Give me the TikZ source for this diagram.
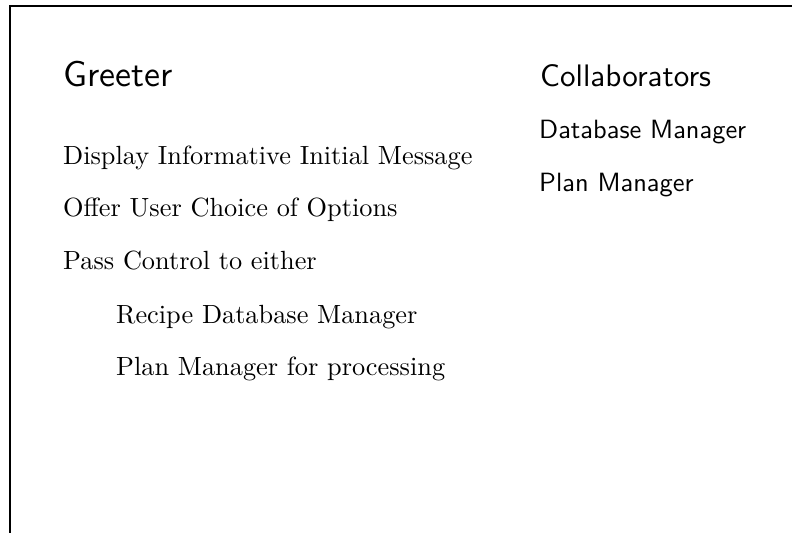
\documentclass[tikz,border=0pt]{standalone}
\usepackage{graphicx}
\usepackage{tikz}
% text is set at its 10pt design and blown up, as on the card
\newcommand{\cardtext}[2]{\scalebox{#1}{\fontsize{10}{12}\selectfont #2}}
\tikzset{
  every picture/.style={line join=miter, line cap=butt},
  card/.style={line width=2bp},
  title/.style={anchor=base west, inner sep=0pt, font=\sffamily},
  collab/.style={anchor=base west, inner sep=0pt, font=\sffamily},
  resp/.style={anchor=base west, inner sep=0pt, font=\rmfamily},
}

\begin{document}
\begin{tikzpicture}[x=1bp,y=-1bp]
\useasboundingbox (0,0) rectangle (792,533);
\draw[card](10,533)--(10,6)--(792,6);
% class name and collaborators
\node[title] (name) at (63,87) {\cardtext{3.6}{Greeter}};
\node[title] (coll) at (540,87) {\cardtext{3.12}{Collaborators}};
\node[collab] (db) at (539,139) {\cardtext{2.65}{Database Manager}};
\node[collab] (plan) at (539,192) {\cardtext{2.65}{Plan Manager}};
% responsibilities
\node[resp] (r1) at (63,165) {\cardtext{2.64}{Display Informative Initial Message}};
\node[resp] (r2) at (63,217) {\cardtext{2.64}{Offer User Choice of Options}};
\node[resp] (r3) at (63,270) {\cardtext{2.64}{Pass Control to either}};
\node[resp] (r4) at (116,323) {\cardtext{2.64}{Recipe Database Manager}};
\node[resp] (r5) at (116,375) {\cardtext{2.64}{Plan Manager for processing}};
\end{tikzpicture}
\end{document}
